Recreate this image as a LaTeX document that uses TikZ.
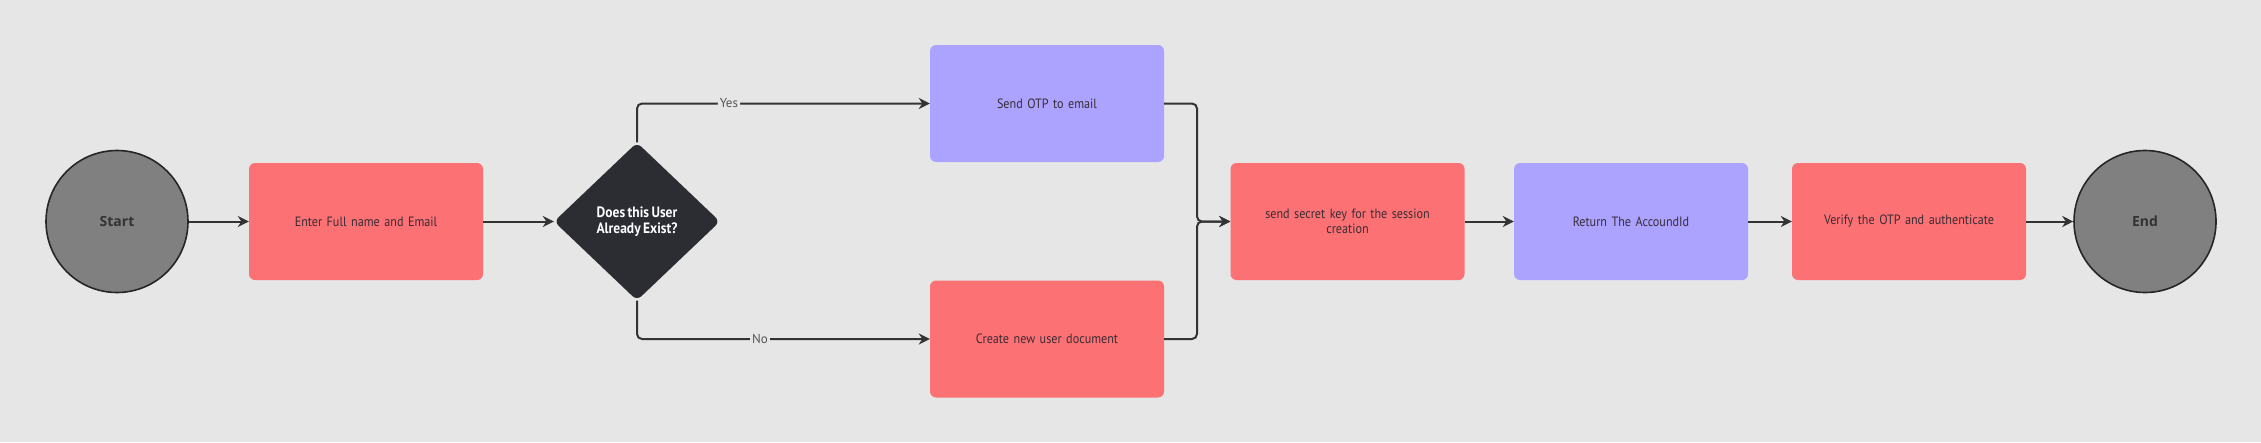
\documentclass[tikz,border=0pt]{standalone}
\usepackage{fontspec}
\setmainfont{PT Sans}
\newfontfamily\termfont{Open Sans}
\newfontfamily\boxfont[FakeStretch=0.9, WordSpace=0.72]{PT Sans}
\usetikzlibrary{shapes.geometric,arrows.meta}
\definecolor{bg}{HTML}{E6E6E6}
\definecolor{redbox}{HTML}{FC7174}
\definecolor{purplebox}{HTML}{ABA3FF}
\definecolor{darkdia}{HTML}{2B2D33}
\definecolor{termgray}{HTML}{808080}
\definecolor{linecol}{HTML}{333333}
\definecolor{labgray}{HTML}{555555}
\definecolor{boxtext}{HTML}{3A2C34}
\begin{document}
\begin{tikzpicture}[x=1pt,y=-1pt,
  box/.style={rectangle, rounded corners=6pt, minimum width=234pt, minimum height=117pt,
    inner sep=0pt, text width=200pt, align=center, text=boxtext,
    font=\boxfont\fontsize{13.5}{15.5}\selectfont},
  redstep/.style={box, fill=redbox},
  purplestep/.style={box, fill=purplebox},
  term/.style={circle, fill=termgray, draw=black!85, line width=1.6pt, minimum size=142pt,
    inner sep=0pt, text=black!80, font=\termfont\bfseries\fontsize{14}{17}\selectfont},
  decision/.style={diamond, fill=darkdia, rounded corners=6pt, minimum width=166pt,
    minimum height=158pt, inner sep=0pt, text=white, align=center,
    font=\boxfont\bfseries\fontsize{15}{16}\selectfont},
  flow/.style={draw=linecol, line width=2pt, -{Stealth[length=11pt,width=11pt]}, rounded corners=5pt},
  lab/.style={fill=bg, inner sep=2pt, text=labgray, font=\fontsize{13}{15}\selectfont}
]
\fill[bg] (0,0) rectangle (2261,442);
\useasboundingbox (0,0) rectangle (2261,442);

\node[term] (start) at (117,221.5) {Start};
\node[redstep] (enter) at (366,221.5) {Enter Full name and Email};
\node[decision] (dec) at (637,221.5) {Does this User\\Already Exist?};
\node[purplestep] (otp) at (1047,103.5) {Send OTP to email};
\node[redstep] (create) at (1047,339) {Create new user document};
\node[redstep] (secret) at (1347.5,221.5) {send secret key for the session\\creation};
\node[purplestep] (ret) at (1631,221.5) {Return The AccoundId};
\node[redstep] (verify) at (1909,221.5) {Verify the OTP and authenticate};
\node[term] (end) at (2145,221.5) {End};
\coordinate (merge) at (1197,221.5);

\draw[flow] (start) -- (enter);
\draw[flow] (enter) -- (dec);
\draw[flow] (dec.north) |- node[lab, pos=0.657] {Yes} (otp.west);
\draw[flow] (dec.south) |- node[lab, pos=0.71] {No} (create.west);
\draw[flow] (otp.east) -| (merge) -- (secret.west);
\draw[flow] (create.east) -| (merge) -- (secret.west);
\draw[flow] (secret) -- (ret);
\draw[flow] (ret) -- (verify);
\draw[flow] (verify) -- (end);
\end{tikzpicture}
\end{document}
